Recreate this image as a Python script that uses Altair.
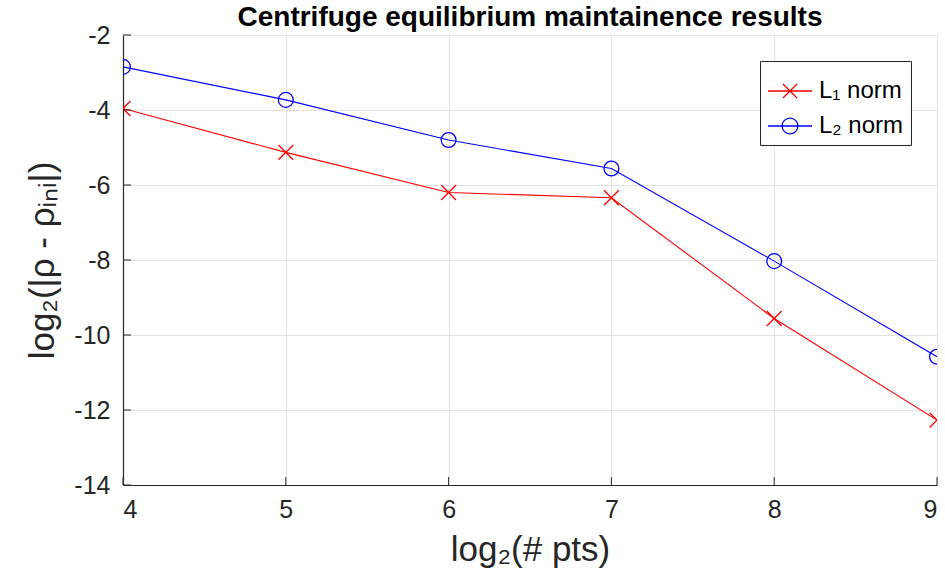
import altair as alt
import pandas as pd

x_vals = [4, 5, 6, 7, 8, 9]
l1_vals = [-3.96, -5.13, -6.2, -6.34, -9.56, -12.27]
l2_vals = [-2.85, -3.73, -4.8, -5.56, -8.03, -10.58]
series_names = ["L₁ norm", "L₂ norm"]
series_colors = ["#ff0000", "#0000ff"]
x_ticks = [4, 5, 6, 7, 8, 9]
y_ticks = [-14, -12, -10, -8, -6, -4, -2]

rows = []
for xv, a, b in zip(x_vals, l1_vals, l2_vals):
    rows.append({"x": xv, "y": a, "series": series_names[0]})
    rows.append({"x": xv, "y": b, "series": series_names[1]})
df = pd.DataFrame(rows)
xt_df = pd.DataFrame({"x": x_ticks})
yt_df = pd.DataFrame({"y": y_ticks})

FONT = "Liberation Sans"
AX = "#262626"

xscale = alt.Scale(domain=[4, 9], nice=False, zero=False)
yscale = alt.Scale(domain=[-14, -2], nice=False, zero=False)

xenc = alt.X("x:Q", scale=xscale,
             axis=alt.Axis(values=x_ticks, title="log₂(# pts)", labelExpr="'' + datum.value",
                           labelPadding=12, titlePadding=10))
yenc = alt.Y("y:Q", scale=yscale,
             axis=alt.Axis(values=y_ticks, title="log₂(|ρ - ρᵢₙᵢ|)", labelExpr="'' + datum.value",
                           labelPadding=13, titlePadding=13))

color_plain = alt.Color("series:N", scale=alt.Scale(domain=series_names, range=series_colors), legend=None)

lines = alt.Chart(df).mark_line(strokeWidth=1.1, clip=True).encode(
    x=xenc, y=yenc, color=color_plain, detail="series:N")

cross = "M-1,-1L1,1M-1,1L1,-1"
pts = alt.Chart(df).mark_point(filled=False, strokeWidth=1.3, size=220, opacity=1, clip=True).encode(
    x=xenc, y=yenc, color=color_plain,
    shape=alt.Shape("series:N", scale=alt.Scale(domain=series_names, range=[cross, "circle"]), legend=None))

# inward tick marks (MATLAB style)
yticks_in = alt.Chart(yt_df).mark_rule(color=AX, strokeWidth=1).encode(
    y=yenc, x=alt.value(0), x2=alt.value(8))
xticks_in = alt.Chart(xt_df).mark_rule(color=AX, strokeWidth=1).encode(
    x=xenc, y=alt.value(450), y2=alt.value(442))

leg_kw = dict(title=None, orient="top-right", offset=26,
              symbolSize=1936, symbolStrokeWidth=1.3,
              labelFontSize=24, labelFont=FONT, labelColor="#000000",
              labelOffset=6, rowPadding=0, padding=7,
              strokeColor="#262626", fillColor="#ffffff", cornerRadius=0)
leg_cross = "M-1,0L1,0M-0.32,-0.32L0.32,0.32M-0.32,0.32L0.32,-0.32"
leg_circ = "M-1,0L1,0M0.36,0A0.36,0.36 0 1 1 -0.36,0A0.36,0.36 0 1 1 0.36,0"
legend_layer = alt.Chart(df).transform_filter("datum.x > 100").mark_point(
    filled=False, strokeWidth=1.3, opacity=1).encode(
    color=alt.Color("series:N", scale=alt.Scale(domain=series_names, range=series_colors),
                    legend=alt.Legend(**leg_kw)),
    shape=alt.Shape("series:N", scale=alt.Scale(domain=series_names, range=[leg_cross, leg_circ]),
                    legend=alt.Legend(**leg_kw)))

chart = alt.layer(lines, pts, yticks_in, xticks_in, legend_layer).resolve_scale(
    color="independent", shape="independent"
).properties(
    width=814, height=450,
    autosize=alt.AutoSizeParams(type="none"),
    padding={"left": 123, "top": 35, "right": 8, "bottom": 101},
    title=alt.TitleParams("Centrifuge equilibrium maintainence results", font=FONT,
                          fontSize=28, fontWeight="bold", color="#000000",
                          anchor="middle", offset=-9),
).configure_view(stroke=None).configure_axis(
    labelFont=FONT, titleFont=FONT, labelFontSize=25, titleFontSize=35,
    titleFontWeight="normal", labelColor=AX, titleColor=AX,
    domainColor=AX, domainWidth=1.2, ticks=False,
    gridColor="#e3e3e3", gridWidth=1,
)

chart.save("out.html", embed_options={"renderer": "svg", "actions": False})
